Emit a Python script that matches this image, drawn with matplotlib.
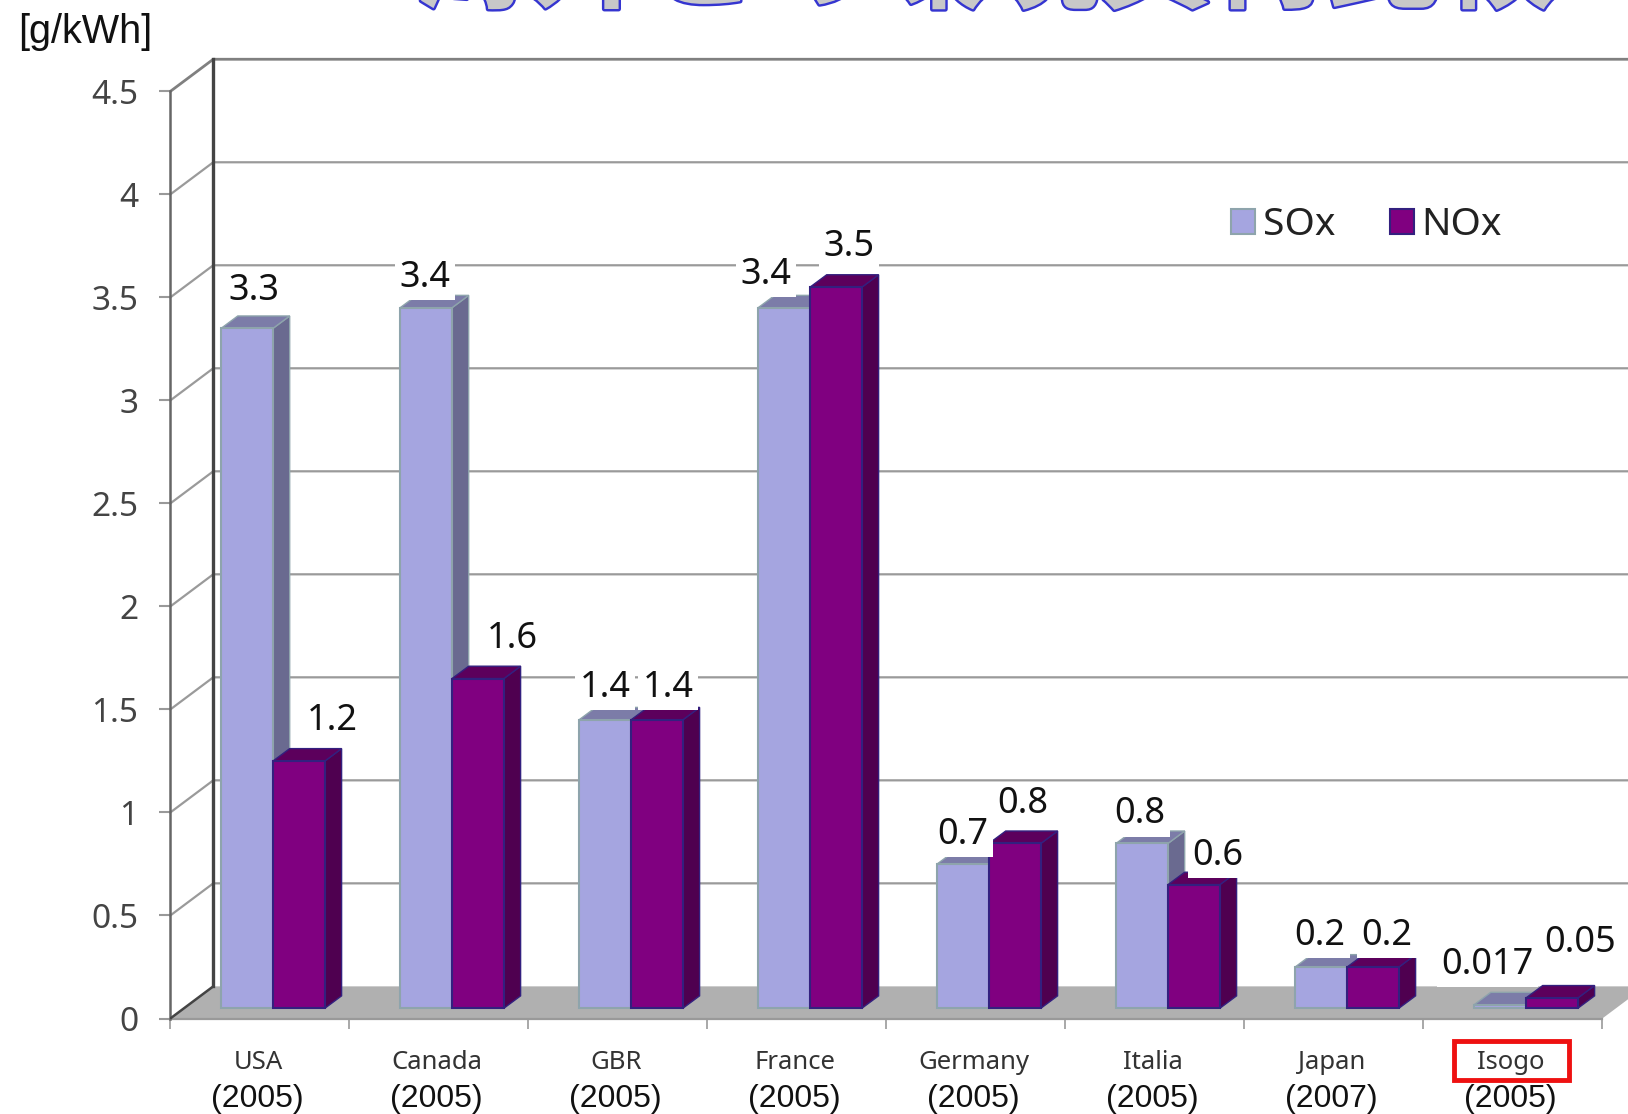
"""
SOx / NOx emission intensity by country, drawn as a fake-3D column chart.
"""

import matplotlib
matplotlib.use('Agg')
import matplotlib.patheffects as pe
import matplotlib.pyplot as plt
from matplotlib.patches import Patch, Rectangle

W, H = 1628, 1114

countries = ['USA', 'Canada', 'GBR', 'France', 'Germany', 'Italia', 'Japan', 'Isogo']
years = ['(2005)', '(2005)', '(2005)', '(2005)', '(2005)', '(2005)', '(2007)', '(2005)']
sox = [3.3, 3.4, 1.4, 3.4, 0.7, 0.8, 0.2, 0.017]
nox = [1.2, 1.6, 1.4, 3.5, 0.8, 0.6, 0.2, 0.05]
sox_labels = ['3.3', '3.4', '1.4', '3.4', '0.7', '0.8', '0.2', '0.017']
nox_labels = ['1.2', '1.6', '1.4', '3.5', '0.8', '0.6', '0.2', '0.05']
y_ticks = [0, 0.5, 1, 1.5, 2, 2.5, 3, 3.5, 4, 4.5]
y_tick_labels = ['0', '0.5', '1', '1.5', '2', '2.5', '3', '3.5', '4', '4.5']

# layout of the fake 3D box, in data units
wall_dx, wall_dy = 0.24, 0.156
bar_dx, bar_dy = 0.093, 0.06
bar_base = 0.05
bar_w = 0.29
bar_start = 0.284

# hand placed labels: pixel offset from the middle of the bar top
sox_nudge = [(7, 37), (-1, 30), (0, 32), (-18, 33), (0, 29), (-2, 29), (-1, 31), (-13, 40)]
nox_nudge = [(33, 40), (34, 40), (11, 32), (13, 40), (8, 39), (24, 29), (14, 31), (28, 55)]

SOX_STYLE = dict(front='#a5a5e0', side='#6a6a90', top='#7c7ca8', edge='#8ea4ac')
NOX_STYLE = dict(front='#800080', side='#4f0050', top='#5c005c', edge='#33207f')


def draw_bar(ax, x, value, style, zorder, show_side=True):
    y0, y1 = bar_base, bar_base + value
    if show_side:
        ax.fill([x + bar_w, x + bar_w + bar_dx, x + bar_w + bar_dx, x + bar_w],
                [y0, y0 + bar_dy, y1 + bar_dy, y1],
                fc=style['side'], ec=style['edge'], lw=1, zorder=zorder, clip_on=False)
    ax.fill([x, x + bar_dx, x + bar_w + bar_dx, x + bar_w],
            [y1, y1 + bar_dy, y1 + bar_dy, y1],
            fc=style['top'], ec=style['edge'], lw=1, zorder=zorder, clip_on=False)
    ax.bar(x, value, bar_w, bottom=y0, align='edge', color=style['front'],
           edgecolor=style['edge'], linewidth=1.5, zorder=zorder, clip_on=False)


def put_label(ax, x, value, text, nudge):
    ax.annotate(text, (x + bar_w / 2, bar_base + value), xytext=nudge,
                textcoords='offset pixels', ha='center', va='center',
                fontsize=26, family='Noto Sans', color='#111111', zorder=20,
                bbox=dict(fc='white', ec='none', pad=3))


fig = plt.figure(figsize=(W / 100, H / 100), dpi=100, facecolor='white')
ax = fig.add_axes([170.3 / W, (H - 1018.5) / H, 1432 / W, 927.1 / H])
ax.set_xlim(0, 8)
ax.set_ylim(0, 4.5)
ax.patch.set_visible(False)
for side in ['top', 'right', 'bottom']:
    ax.spines[side].set_visible(False)
ax.spines['left'].set_color('#666666')
ax.spines['left'].set_linewidth(1.8)

# floor
ax.fill([0, wall_dx, 8 + wall_dx, 8], [0, wall_dy, wall_dy, 0],
        fc='#b0b0b0', ec='none', zorder=1, clip_on=False)
ax.plot([0, 8], [0, 0], color='#999999', lw=1.6, zorder=2, clip_on=False)
ax.plot([0, wall_dx], [0, wall_dy], color='#444444', lw=1.8, zorder=3)

# walls and grid
for v in y_ticks[1:]:
    top = v == y_ticks[-1]
    ax.plot([0, wall_dx, 8 + wall_dx], [v, v + wall_dy, v + wall_dy],
            color='#808080' if top else '#9a9a9a', lw=2 if top else 1.6,
            zorder=1, clip_on=False)
ax.plot([wall_dx, wall_dx], [wall_dy, y_ticks[-1] + wall_dy], color='#444444',
        lw=2.4, zorder=2, clip_on=False)

ax.set_yticks(y_ticks, y_tick_labels, fontsize=24, family='Noto Sans', color='#444444')
ax.tick_params(axis='y', length=8, width=1.5, color='#999999', pad=15)
ax.set_xticks(range(9), [''] * 9)
ax.tick_params(axis='x', length=7, width=1.2, color='#999999')

for i in range(len(countries)):
    x_sox = i + bar_start
    x_nox = x_sox + bar_w
    draw_bar(ax, x_sox, sox[i], SOX_STYLE, 5 + i * 2, show_side=sox[i] > nox[i])
    draw_bar(ax, x_nox, nox[i], NOX_STYLE, 6 + i * 2)
    put_label(ax, x_sox, sox[i], sox_labels[i], sox_nudge[i])
    put_label(ax, x_nox, nox[i], nox_labels[i], nox_nudge[i])
    trans = ax.get_xaxis_transform()
    ax.text(i + 0.49, -44 / 927.1, countries[i], transform=trans, ha='center', va='center',
            fontsize=18.5, family='Noto Sans', color='#333333')
    ax.text(i + 0.485, -81 / 927.1, years[i], transform=trans, ha='center', va='center',
            fontsize=23, family='Liberation Sans', color='#111111')

handles = [Patch(fc=SOX_STYLE['front'], ec=SOX_STYLE['edge'], lw=1.5, label='SOx'),
           Patch(fc=NOX_STYLE['front'], ec=NOX_STYLE['edge'], lw=1.5, label='NOx')]
fig.legend(handles=handles, ncols=2, frameon=False, loc='center left',
           bbox_to_anchor=(1231 / W, 1 - 225 / H), borderpad=0, borderaxespad=0,
           prop=dict(family='Noto Sans', size=28), handlelength=0.62, handleheight=0.62,
           handletextpad=0.2, columnspacing=1.4, labelcolor='#222222')

fig.add_artist(Rectangle((1454 / W, 1 - 1080 / H), 115 / W, 39 / H, transform=fig.transFigure,
                         fill=False, ec='#ee1111', lw=3.5))

fig.text(18 / W, 1 - 32 / H, '[g/kWh]', ha='left', va='center', fontsize=28.5,
         family='Liberation Sans', color='#111111')

# title is cut off by the top of the picture, only the glyph feet show
title = fig.text(985 / W, 1 + 1 / H, '海外との環境負荷比較', ha='center', va='baseline',
                 fontsize=82, fontweight='bold', family=['Noto Sans CJK JP', 'DejaVu Sans'],
                 color='#c8c8c8')
title.set_path_effects([pe.withStroke(linewidth=3.5, foreground='#3535d0')])

fig.savefig('out.png', dpi=100)
